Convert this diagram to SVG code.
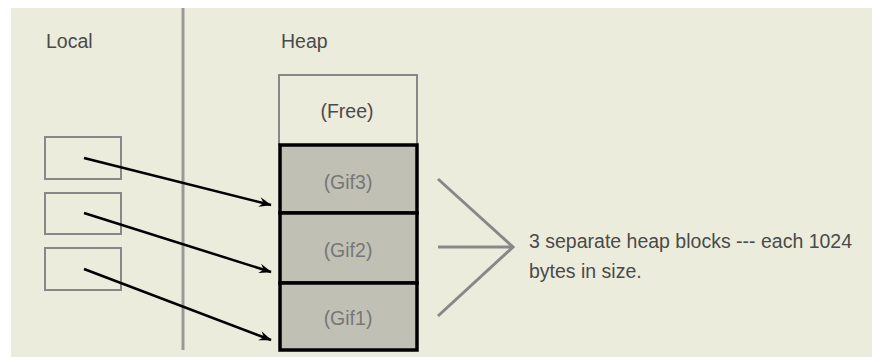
<svg xmlns="http://www.w3.org/2000/svg" width="872" height="357" viewBox="0 0 872 357">
<style>
text{font-family:"Liberation Sans",Arial,sans-serif;font-size:19.5px;fill:#4a4a4a}
.lbox{fill:none;stroke:#888;stroke-width:2}
.blk{fill:#c0c0b4;stroke:#000;stroke-width:3.5}
.gl{fill:#777;text-anchor:middle}
.ptr{stroke:#000;stroke-width:2.5;fill:none;marker-end:url(#ah)}
.gray{stroke:#888;stroke-width:3;fill:none}
</style>
<defs>
<marker id="ah" viewBox="0 0 10 10" refX="9" refY="5" markerWidth="7" markerHeight="7" markerUnits="userSpaceOnUse" orient="auto" overflow="visible">
<path d="M-8,-2 L10,5 L-8,12 L-2,5 Z" fill="#000"/>
</marker>
</defs>
<rect x="11" y="8" width="861" height="349" fill="#ECECDC"/>
<line x1="183" y1="8" x2="183" y2="350" stroke="#999" stroke-width="3"/>
<text x="46" y="48">Local</text>
<text x="281" y="48">Heap</text>
<g id="local1"><rect class="lbox" x="45" y="137" width="76" height="42"/></g>
<g id="local2"><rect class="lbox" x="45" y="193" width="76" height="41"/></g>
<g id="local3"><rect class="lbox" x="45" y="248" width="76" height="42"/></g>
<g id="free"><rect x="279" y="75" width="138" height="70" fill="none" stroke="#888" stroke-width="2"/><text x="347" y="118" text-anchor="middle" fill="#444">(Free)</text></g>
<g id="gif3"><rect class="blk" x="280" y="145" width="137" height="68"/><text class="gl" x="348" y="189">(Gif3)</text></g>
<g id="gif2"><rect class="blk" x="280" y="213" width="137" height="70"/><text class="gl" x="348" y="257">(Gif2)</text></g>
<g id="gif1"><rect class="blk" x="280" y="283" width="137" height="67"/><text class="gl" x="348" y="325">(Gif1)</text></g>
<g id="connectors">
<line class="ptr" x1="84" y1="158" x2="271" y2="205"/>
<line class="ptr" x1="84" y1="213" x2="271" y2="272"/>
<line class="ptr" x1="84" y1="269" x2="271" y2="340"/>
</g>
<g id="brace">
<polyline class="gray" points="438,179 513,247 438,316"/>
<line class="gray" x1="438" y1="247" x2="513" y2="247"/>
</g>
<g id="note">
<text x="529" y="248">3 separate heap blocks --- each 1024</text>
<text x="529" y="278">bytes in size.</text>
</g>
</svg>
